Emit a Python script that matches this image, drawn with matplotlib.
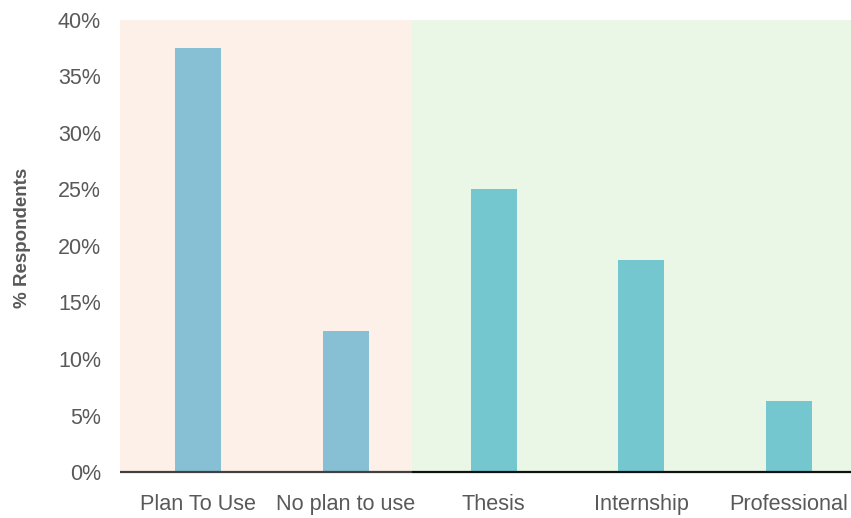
import matplotlib
matplotlib.use("Agg")
import matplotlib.pyplot as plt
from matplotlib.ticker import FuncFormatter, MultipleLocator

categories = ["Plan To Use", "No plan to use", "Thesis", "Internship", "Professional"]
shares = [0.375, 0.125, 0.25, 0.1875, 0.0625]
bar_colors = ["#87BFD4", "#87BFD4", "#74C7CF", "#74C7CF", "#74C7CF"]

W, H = 851, 518
fig = plt.figure(figsize=(W / 100, H / 100), dpi=100)
fig.patch.set_facecolor("white")

left, right, top, bottom = 120, 851, 20, 472
ax = fig.add_axes([left / W, 1 - bottom / H, (right - left) / W, (bottom - top) / H])
ax.set_facecolor("none")

x = range(len(categories))
xmin, xmax = -0.53, 4.42
split = 1.45

# group shading: plans vs. uses
ax.axvspan(xmin, split, color="#FDF0E8", zorder=0, lw=0)
ax.axvspan(split, xmax, color="#EAF6E6", zorder=0, lw=0)

ax.bar(x, shares, width=0.31, color=bar_colors, zorder=2)

ax.set_xlim(xmin, xmax)
ax.set_ylim(0, 0.40)
ax.yaxis.set_major_locator(MultipleLocator(0.05))
ax.yaxis.set_major_formatter(FuncFormatter(lambda v, p: f"{round(v * 100)}%"))

for s in ax.spines.values():
    s.set_visible(False)

ax.plot([xmin, split], [0, 0], color="#404040", lw=1.6, zorder=3, clip_on=False,
        solid_capstyle="butt")
ax.plot([split, xmax], [0, 0], color="#111111", lw=1.6, zorder=3, clip_on=False,
        solid_capstyle="butt")

ax.tick_params(axis="both", length=0)
ax.tick_params(axis="y", pad=13.7, labelsize=15.5, labelcolor="#595959")
ax.tick_params(axis="x", pad=16, labelsize=15.6, labelcolor="#595959")
ax.set_xticks(list(x))
ax.set_xticklabels(categories, family=["Liberation Sans", "DejaVu Sans"])
for lbl in ax.get_yticklabels():
    lbl.set_family(["Liberation Sans", "DejaVu Sans"])

fig.text(23 / W, 1 - 238 / H, "% Respondents", rotation=90, ha="center", va="center",
         fontsize=13.5, fontweight="bold", color="#595959",
         family=["Liberation Sans", "DejaVu Sans"])

fig.savefig("out.png", dpi=100)
